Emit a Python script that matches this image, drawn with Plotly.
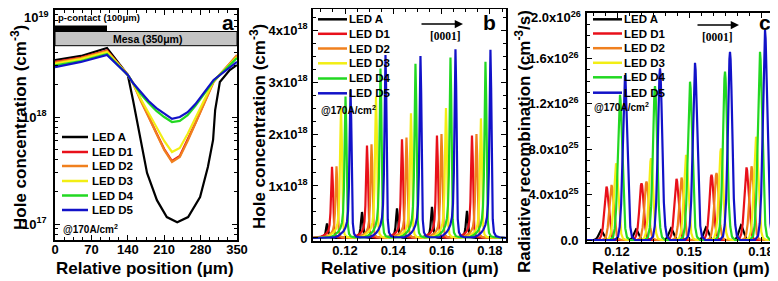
import plotly.graph_objects as go

# the page body adds an 8 px offset, so the figure is 8 px smaller and all layout
# positions below are given in the reference picture's pixel frame, then shifted.
PAGE_W, PAGE_H, OFF = 778, 281, 8
W, H = PAGE_W - OFF, PAGE_H - OFF
FONT = "Liberation Sans, Arial, sans-serif"
SERIF = "Liberation Serif, Times New Roman, serif"

LED_NAMES = ["LED A", "LED D1", "LED D2", "LED D3", "LED D4", "LED D5"]
LED_COLORS = ["#000000", "#e8101a", "#f0801e", "#f2ee14", "#22d822", "#1212c8"]

# ---------------- panel a : hole concentration along the mesa (log scale)
A_X_LEDA = [0, 50, 100, 140, 150, 160, 165, 177, 196, 215, 235, 256, 279, 294, 304, 308, 317, 336, 350]
A_Y_LEDA = [3.41e18, 3.72e18, 4.42e18, 2.47e18, 1.44e18, 8.07e17, 6.1e17, 3.0e17, 1.67e17, 1.16e17,
            1.04e17, 1.16e17, 1.79e17, 3.41e17, 6.1e17, 1.16e18, 2.12e18, 2.75e18, 3.06e18]
A_X_D = [0, 50, 100, 140, 150, 165, 180, 195, 210, 225, 240, 255, 270, 285, 295, 305, 350]
A_Y_D1 = [3.27e18, 3.6e18, 4.18e18, 2.47e18, 2.08e18, 1.44e18, 1.02e18, 7.09e17, 5.02e17, 3.88e17,
          4.32e17, 6.1e17, 8.79e17, 1.29e18, 1.68e18, 2.17e18, 3.72e18]
A_Y_D2 = [3.23e18, 3.56e18, 4.14e18, 2.47e18, 2.08e18, 1.41e18, 1.0e18, 6.93e17, 4.92e17, 3.8e17,
          4.23e17, 5.97e17, 8.6e17, 1.27e18, 1.64e18, 2.12e18, 3.8e18]
A_Y_D3 = [3.16e18, 3.48e18, 4.05e18, 2.47e18, 2.08e18, 1.47e18, 1.09e18, 8.07e17, 5.97e17, 4.71e17,
          5.13e17, 6.93e17, 9.8e17, 1.41e18, 1.75e18, 2.17e18, 3.64e18]
A_Y_D4 = [3.03e18, 3.34e18, 3.88e18, 2.47e18, 2.08e18, 1.64e18, 1.35e18, 1.14e18, 1.0e18, 8.98e17,
          9.2e17, 1.04e18, 1.27e18, 1.61e18, 1.87e18, 2.17e18, 3.56e18]
A_Y_D5 = [2.93e18, 3.27e18, 3.8e18, 2.47e18, 2.08e18, 1.71e18, 1.41e18, 1.21e18, 1.07e18, 9.6e17,
          1.0e18, 1.11e18, 1.32e18, 1.64e18, 1.91e18, 2.22e18, 3.27e18]
A_XTICKS = [0, 70, 140, 210, 280, 350]
A_YTICKS = [1e17, 1e18, 1e19]
A_YTICKTEXT = ["10<sup>17</sup>", "10<sup>18</sup>", ""]   # top label drawn below so it is not clipped
A_TOP_LABEL = "10<sup>19</sup>"
P_CONTACT = [0, 100]
MESA = [0, 350]

# ---------------- panel b : hole concentration in the wells (peak positions / heights)
B_PEAK_POS = [
    [0.11255, 0.12703, 0.14152, 0.15600, 0.17049],
    [0.11462, 0.12910, 0.14359, 0.15807, 0.17256],
    [0.11648, 0.13097, 0.14545, 0.15994, 0.17442],
    [0.11834, 0.13283, 0.14731, 0.16180, 0.17628],
    [0.12021, 0.13469, 0.14917, 0.16366, 0.17815],
    [0.12228, 0.13676, 0.15124, 0.16573, 0.18021],
]
B_PEAK_HEIGHT = [
    [0.28e18, 0.50e18, 0.57e18, 0.60e18, 0.52e18],
    [1.37e18, 1.78e18, 1.90e18, 1.97e18, 1.97e18],
    [1.38e18, 1.80e18, 1.93e18, 2.00e18, 2.00e18],
    [2.50e18, 2.72e18, 2.40e18, 2.50e18, 2.30e18],
    [2.72e18, 3.26e18, 3.35e18, 3.47e18, 3.39e18],
    [2.85e18, 3.52e18, 3.50e18, 3.63e18, 3.62e18],
]
# peak profile: offset from peak (um) and fraction of peak height
B_SHAPE_DX = [-0.0066, -0.0050, -0.0037, -0.0029, -0.0021, -0.00145, -0.00103, -0.00066, -0.00033, 0.0,
              0.00029, 0.00058, 0.00095, 0.00145, 0.00228, 0.0037]
B_SHAPE_FR = [0.004, 0.015, 0.03, 0.045, 0.07, 0.11, 0.18, 0.35, 0.7, 1.0, 0.8, 0.35, 0.1, 0.03, 0.01, 0.004]
B_XRANGE = [0.10675, 0.18665]
B_XTICKS = [0.12, 0.14, 0.16, 0.18]
B_YTICKS = [0, 1e18, 2e18, 3e18, 4e18]
B_YTICKTEXT = ["0", "1x10<sup>18</sup>", "2x10<sup>18</sup>", "3x10<sup>18</sup>", "4x10<sup>18</sup>"]

# ---------------- panel c : radiative recombination in the wells
C_PEAK_POS = [
    [0.11333, 0.12792, 0.14250, 0.15708, 0.17167],
    [0.11563, 0.13021, 0.14479, 0.15938, 0.17396],
    [0.11771, 0.13229, 0.14688, 0.16146, 0.17604],
    [0.11958, 0.13417, 0.14875, 0.16333, 0.17792],
    [0.12125, 0.13583, 0.15042, 0.16500, 0.17958],
    [0.12333, 0.13792, 0.15250, 0.16708, 0.18167],
]
C_PEAK_HEIGHT = [
    [0.88e25, 0.94e25, 1.03e25, 1.12e25, 1.30e25],
    [4.70e25, 5.00e25, 5.40e25, 5.75e25, 6.40e25],
    [4.85e25, 5.15e25, 5.50e25, 5.90e25, 6.50e25],
    [6.76e25, 7.20e25, 7.50e25, 8.08e25, 9.10e25],
    [1.280e26, 1.357e26, 1.395e26, 1.483e26, 1.659e26],
    [1.454e26, 1.513e26, 1.562e26, 1.659e26, 1.850e26],
]
C_SHAPE_DX = [-0.0042, -0.0029, -0.0022, -0.0016, -0.00105, -0.0006, -0.00025, 0.0,
              0.00025, 0.0006, 0.00105, 0.0016, 0.0022, 0.0029, 0.0042]
C_SHAPE_FR = [0.0, 0.02, 0.08, 0.22, 0.48, 0.8, 0.96, 1.0, 0.96, 0.8, 0.48, 0.22, 0.08, 0.02, 0.0]
C_XRANGE = [0.1075, 0.18583]
C_XTICKS = [0.12, 0.15, 0.18]
C_YTICKS = [0, 4e25, 8e25, 1.2e26, 1.6e26, 2.0e26]
C_YTICKTEXT = ["0.0", "4.0x10<sup>25</sup>", "8.0x10<sup>25</sup>", "1.2x10<sup>26</sup>",
               "1.6x10<sup>26</sup>", ""]   # top label drawn below so it is not clipped
C_TOP_LABEL = "2.0x10<sup>26</sup>"


def build_wells(centers, heights, dx, fr, xr):
    xs, ys = [xr[0]], [0.0]
    for c, h in zip(centers, heights):
        for d, f in zip(dx, fr):
            xs.append(c + d)
            ys.append(h * f)
    xs.append(xr[1])
    ys.append(0.0)
    return xs, ys


fig = go.Figure()
LW = 2.2

a_y = [A_Y_LEDA, A_Y_D1, A_Y_D2, A_Y_D3, A_Y_D4, A_Y_D5]
for i, name in enumerate(LED_NAMES):
    xs = A_X_LEDA if i == 0 else A_X_D
    fig.add_trace(go.Scatter(x=xs, y=a_y[i], mode="lines", name=name,
                             line=dict(color=LED_COLORS[i], width=LW), xaxis="x", yaxis="y"))

for i, name in enumerate(LED_NAMES):
    xs, ys = build_wells(B_PEAK_POS[i], B_PEAK_HEIGHT[i], B_SHAPE_DX, B_SHAPE_FR, B_XRANGE)
    fig.add_trace(go.Scatter(x=xs, y=ys, mode="lines", name=name,
                             line=dict(color=LED_COLORS[i], width=LW), xaxis="x2", yaxis="y2"))

for i, name in enumerate(LED_NAMES):
    xs, ys = build_wells(C_PEAK_POS[i], C_PEAK_HEIGHT[i], C_SHAPE_DX, C_SHAPE_FR, C_XRANGE)
    fig.add_trace(go.Scatter(x=xs, y=ys, mode="lines", name=name,
                             line=dict(color=LED_COLORS[i], width=LW), xaxis="x3", yaxis="y3"))

TICK_SIZE = 13
tickfont = dict(family=FONT, size=TICK_SIZE, color="black", weight="bold")


def dom_x(left, right):
    return [(left - OFF) / W, (right - OFF) / W]


def dom_y(top, bottom):
    return [1 - (bottom - OFF) / H, 1 - (top - OFF) / H]


def axis(domain, anchor, **kw):
    d = dict(domain=domain, anchor=anchor, showline=True, linecolor="black", linewidth=1.8,
             mirror="allticks", ticks="inside", ticklen=5, tickwidth=1.3, tickcolor="black",
             showgrid=False, zeroline=False, tickfont=tickfont, automargin=False,
             ticklabeloverflow="allow")
    d.update(kw)
    return d


def minor(**kw):
    d = dict(ticks="inside", ticklen=3, tickwidth=1, tickcolor="black", showgrid=False)
    d.update(kw)
    return d


XSTAND = -4

fig.update_layout(
    template="none",
    width=W, height=H, margin=dict(l=0, r=0, t=0, b=0, autoexpand=False),
    paper_bgcolor="white", plot_bgcolor="white", showlegend=False,
    xaxis=axis(dom_x(55, 237), "y", range=[0, 350], tickmode="array", tickvals=A_XTICKS,
               minor=minor(dtick=17.5, tick0=0), ticklabelstandoff=XSTAND),
    yaxis=axis(dom_y(10, 240), "x", type="log", range=[16.8505, 19.0001], tickmode="array",
               tickvals=A_YTICKS, ticktext=A_YTICKTEXT, minor=minor(dtick="D1"), ticklabelstandoff=4),
    xaxis2=axis(dom_x(313, 506), "y2", range=B_XRANGE, tickmode="array", tickvals=B_XTICKS,
                minor=minor(dtick=0.005, tick0=0.12), ticklabelstandoff=XSTAND),
    yaxis2=axis(dom_y(9, 241), "x2", range=[-0.058e18, 4.404e18], tickmode="array",
                tickvals=B_YTICKS, ticktext=B_YTICKTEXT, minor=minor(dtick=0.25e18, tick0=0),
                ticklabelstandoff=1),
    xaxis3=axis(dom_x(587, 775), "y3", range=C_XRANGE, tickmode="array", tickvals=C_XTICKS,
                minor=minor(dtick=0.005, tick0=0.12), ticklabelstandoff=XSTAND),
    yaxis3=axis(dom_y(13, 242), "x3", range=[-1.76e24, 2.0005e26], tickmode="array",
                tickvals=C_YTICKS, ticktext=C_YTICKTEXT, minor=minor(dtick=1e25, tick0=0),
                ticklabelstandoff=4),
)


def px(x, y):
    return (x - OFF) / W, 1 - (y - OFF) / H


annotations = []
shapes = []


def text(x, y, s, size, xanchor="center", family=FONT, angle=0, yanchor="middle"):
    X, Y = px(x, y)
    annotations.append(dict(x=X, y=Y, xref="paper", yref="paper", text=s, showarrow=False,
                            xanchor=xanchor, yanchor=yanchor, textangle=angle, borderpad=0,
                            font=dict(family=family, size=size, color="black", weight="bold")))


def legend(x0, x1, xt, rows, size):
    for i, name in enumerate(LED_NAMES):
        X0, Y = px(x0, rows[i])
        X1, _ = px(x1, rows[i])
        shapes.append(dict(type="line", xref="paper", yref="paper", x0=X0, x1=X1, y0=Y, y1=Y,
                           line=dict(color=LED_COLORS[i], width=2.5)))
        text(xt, rows[i], name, size, xanchor="left")


def arrow(x0, x1, y):
    X1, Y = px(x1, y)
    annotations.append(dict(x=X1, y=Y, ax=-(x1 - x0), ay=0, xref="paper", yref="paper",
                            axref="pixel", ayref="pixel", text="", showarrow=True, arrowhead=2,
                            arrowsize=1.1, arrowwidth=1.5, arrowcolor="black"))


# top tick labels of panels a and c (placed just inside the page so they stay whole)
text(50, 8, A_TOP_LABEL, TICK_SIZE, xanchor="right", yanchor="top")
text(582, 8, C_TOP_LABEL, TICK_SIZE, xanchor="right", yanchor="top")

# panel a decorations
shapes.append(dict(type="rect", xref="x", yref="y domain", x0=MESA[0], x1=MESA[1], y0=0.8448, y1=0.9065,
                   fillcolor="#c4c4c4", line=dict(color="black", width=1)))
shapes.append(dict(type="rect", xref="x", yref="y domain", x0=P_CONTACT[0], x1=P_CONTACT[1], y0=0.9087,
                   y1=0.9326, fillcolor="black", line=dict(width=0)))
text(57, 18, "p-contact (100\u03bcm)", 9.5, xanchor="left")
text(147, 39, "Mesa (350\u03bcm)", 10.5)
text(228, 22, "a", 21)
legend(62, 88, 91, [137, 152, 166, 181, 195.5, 210], 11.5)
text(62, 229, "@170A/cm<sup>2</sup>", 10, xanchor="left")
text(19, 128, "Hole concentration (cm<sup>-3</sup>)", 17, angle=-90)
text(145, 268, "Relative position (\u03bcm)", 17)

# panel b decorations
legend(318, 347, 348, [19.3, 33.8, 48.5, 63.3, 78.5, 93.3], 11.5)
text(320, 110, "@170A/cm<sup>2</sup>", 10, xanchor="left")
arrow(420, 463, 24)
text(445, 36, "[0001]", 11.5, family=SERIF)
text(489, 22, "b", 21)
text(258, 127, "Hole concentration (cm<sup>-3</sup>)", 17, angle=-90)
text(410, 268, "Relative position (\u03bcm)", 17)

# panel c decorations
legend(593, 622, 623, [19.3, 33.5, 48.2, 62.8, 77.3, 92.7], 11.5)
text(593, 107, "@170A/cm<sup>2</sup>", 10, xanchor="left")
arrow(696, 739, 25)
text(717, 37, "[0001]", 11.5, family=SERIF)
text(765, 22, "c", 21)
text(523, 142, "Radiative recombination (cm<sup>-3</sup>/s)", 17, angle=-90)
text(681, 268, "Relative position (\u03bcm)", 17)

fig.update_layout(annotations=annotations, shapes=shapes)
fig.write_html("out.html")
